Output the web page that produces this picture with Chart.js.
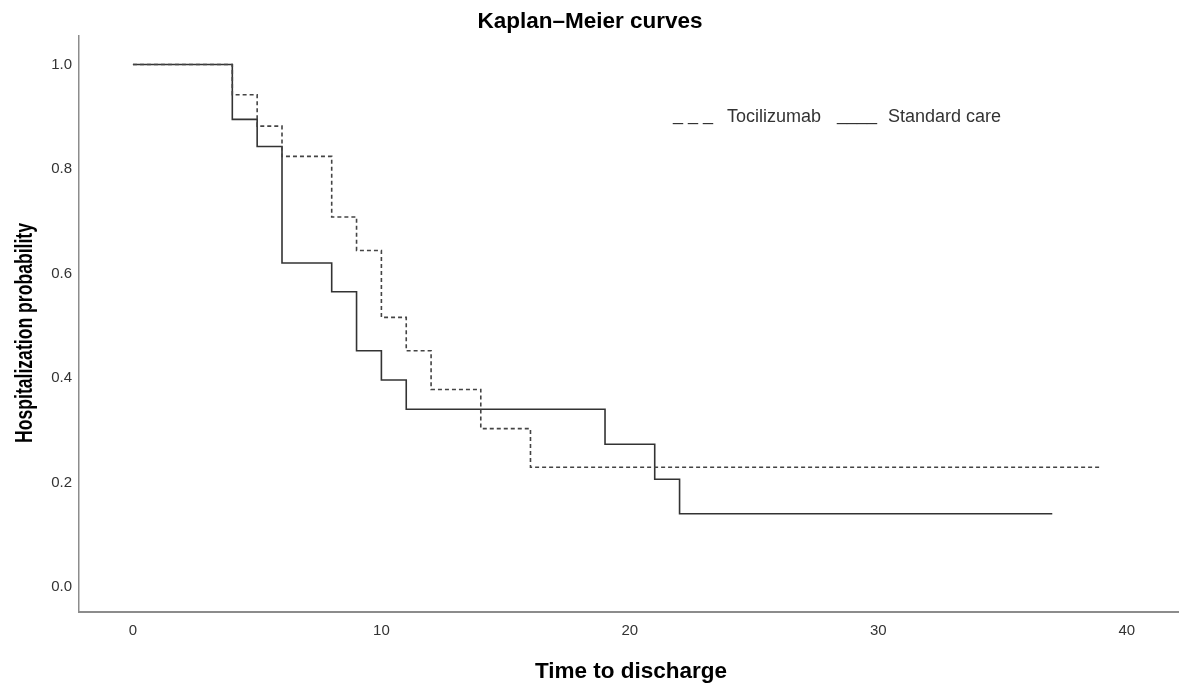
<!DOCTYPE html>
<html>
<head>
<meta charset="utf-8">
<title>Kaplan-Meier curves</title>
<script src="https://cdn.jsdelivr.net/npm/chart.js@4.4.1/dist/chart.umd.min.js"></script>
<style>
  html, body { margin: 0; padding: 0; background: #fff; }
  #wrap { width: 1179px; height: 684px; }
</style>
</head>
<body>
<div id="wrap"><canvas id="kmChart" width="1179" height="684"></canvas></div>
<script>
// Kaplan-Meier step data
const tociTimes = [0, 4, 5, 6, 8, 9, 10, 11, 12, 14, 16, 39];
const tociSurv  = [1.0, 0.942, 0.882, 0.824, 0.708, 0.644, 0.516, 0.452, 0.378, 0.303, 0.229, 0.229];
const stdTimes  = [0, 4, 5, 6, 8, 9, 10, 11, 19, 21, 22, 37];
const stdSurv   = [1.0, 0.895, 0.843, 0.620, 0.565, 0.452, 0.396, 0.340, 0.273, 0.206, 0.140, 0.140];
const xTicks = [0, 10, 20, 30, 40];
const yTicks = [0, 0.2, 0.4, 0.6, 0.8, 1.0];

const FONT = "'Liberation Sans', Arial, Helvetica, sans-serif";

function toPoints(times, surv) {
  return times.map((t, i) => ({ x: t, y: surv[i] }));
}

// ========== Text plugin (titles + legend) ==========
const textPlugin = {
  id: 'kmText',
  afterDraw(chart) {
    const ctx = chart.ctx;
    ctx.save();
    ctx.fillStyle = '#000';
    ctx.textAlign = 'center';
    ctx.textBaseline = 'alphabetic';
    ctx.font = 'bold 22.5px ' + FONT;
    ctx.fillText('Kaplan\u2013Meier curves', 590, 28);
    ctx.fillText('Time to discharge', 631, 678);

    // y title, squeezed like the original
    ctx.save();
    ctx.translate(32, 333);
    ctx.rotate(-Math.PI / 2);
    ctx.font = 'bold 23px ' + FONT;
    const w = ctx.measureText('Hospitalization probability').width;
    ctx.scale(220 / w, 1);
    ctx.fillText('Hospitalization probability', 0, 0);
    ctx.restore();

    // legend
    ctx.fillStyle = '#333';
    ctx.textAlign = 'left';
    ctx.font = '18px ' + FONT;
    ctx.fillText('_ _ _', 673, 120);
    ctx.fillText('Tocilizumab', 727, 122);
    ctx.fillText('____', 837, 120);
    ctx.fillText('Standard care', 888, 122);
    ctx.restore();
  }
};

new Chart(document.getElementById('kmChart'), {
  type: 'line',
  data: {
    datasets: [
      {
        label: 'Tocilizumab',
        data: toPoints(tociTimes, tociSurv),
        stepped: 'before',
        borderColor: '#444',
        borderWidth: 1.6,
        borderDash: [4, 3],
        pointRadius: 0,
        fill: false
      },
      {
        label: 'Standard care',
        data: toPoints(stdTimes, stdSurv),
        stepped: 'before',
        borderColor: '#333',
        borderWidth: 1.6,
        pointRadius: 0,
        fill: false
      }
    ]
  },
  options: {
    responsive: false,
    animation: false,
    layout: { padding: { top: 36, left: 0, right: 0, bottom: 0 } },
    plugins: {
      legend: { display: false },
      tooltip: { enabled: false },
      title: { display: false }
    },
    scales: {
      x: {
        type: 'linear',
        min: -2.17,
        max: 42.1,
        afterFit: s => { s.height = 72; },
        afterBuildTicks: s => { s.ticks = xTicks.map(v => ({ value: v })); },
        grid: { display: false, drawTicks: false },
        border: { display: true, color: '#8c8c8c', width: 2 },
        ticks: {
          padding: 10,
          color: '#333',
          font: { family: FONT, size: 15 },
          callback: v => String(v)
        }
      },
      y: {
        type: 'linear',
        min: -0.048,
        max: 1.0545,
        afterFit: s => { s.width = 79; },
        afterBuildTicks: s => { s.ticks = yTicks.map(v => ({ value: v })); },
        grid: { display: false, drawTicks: false },
        border: { display: true, color: '#8c8c8c', width: 1.5 },
        ticks: {
          padding: 7,
          color: '#333',
          font: { family: FONT, size: 15 },
          callback: v => Number(v).toFixed(1)
        }
      }
    }
  },
  plugins: [textPlugin]
});
</script>
</body>
</html>
